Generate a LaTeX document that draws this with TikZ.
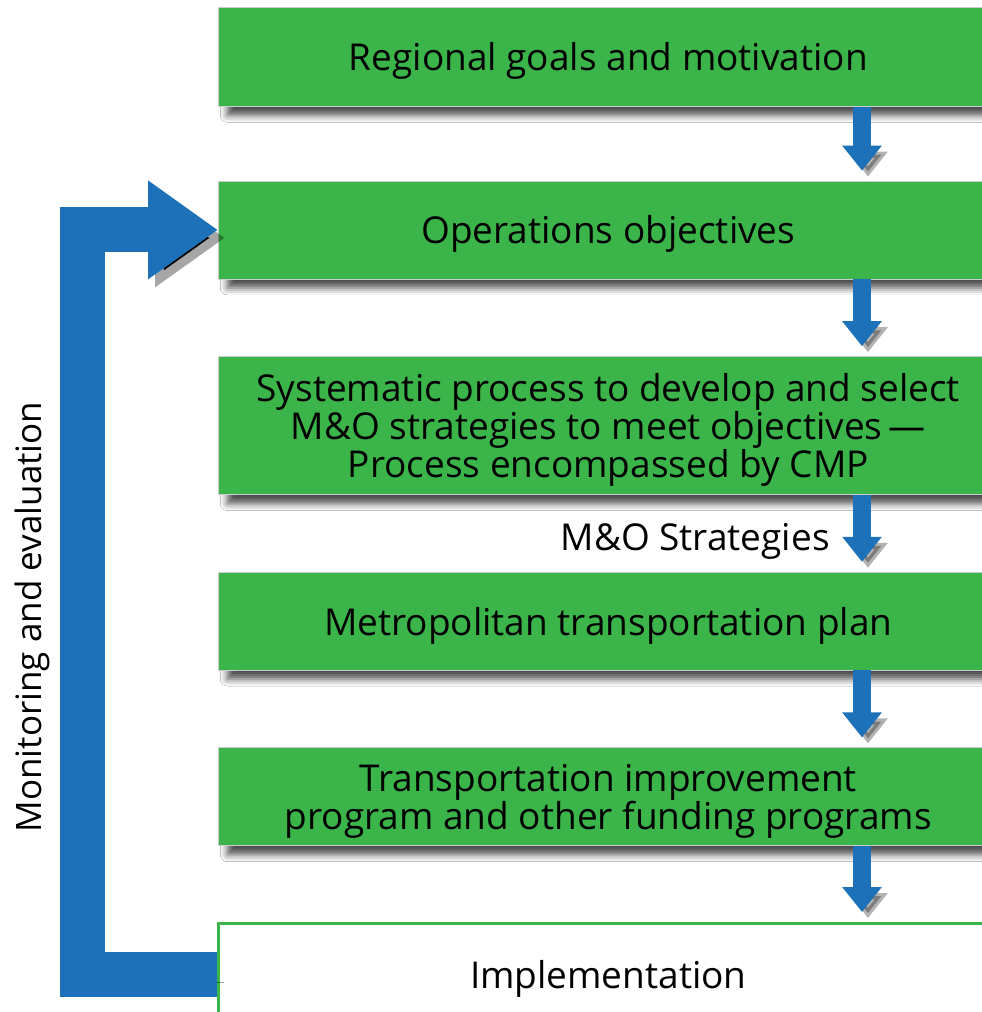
\documentclass[tikz,border=0pt]{standalone}
\usepackage{fontspec}
\setmainfont{Open Sans}
\usetikzlibrary{arrows.meta,positioning,shadows.blur}
\definecolor{boxgreen}{RGB}{59,181,74}
\definecolor{flowblue}{RGB}{29,113,184}

\begin{document}
\begin{tikzpicture}[
      x=1pt, y=-1pt,
      font=\fontsize{37}{35}\selectfont,
      node distance=76pt,
      box/.style={fill=boxgreen, draw=black!20, line width=0.6pt, inner sep=0pt,
                  minimum width=780pt, minimum height=98pt, align=center, text=black,
                  text depth=0pt,
                  blur shadow={shadow xshift=9pt, shadow yshift=-9pt,
                               shadow blur radius=7pt, shadow opacity=70}},
      lastbox/.style={box, fill=white, draw=boxgreen, line width=3pt,
                      blur shadow={shadow xshift=6pt, shadow yshift=-6pt,
                                   shadow blur radius=6pt, shadow opacity=25}},
      dn/.style={line width=18pt, draw=flowblue, shorten >=10pt,
                 -{Triangle[width=38pt,length=25pt]},
                 preaction={draw=black, draw opacity=.3, fill opacity=.3,
                            transform canvas={shift={(6pt,-6pt)}}}},
      fb/.style={line width=45pt, draw=flowblue, line join=miter,
                 -{Triangle[width=94pt,length=70pt]},
                 preaction={draw=black, draw opacity=.35,
                            transform canvas={shift={(7pt,-8pt)}}}}
    ]
    \fill[white] (0,0) rectangle (982,1012);
    \useasboundingbox (0,0) rectangle (982,1012);
    \clip (0,0) rectangle (982,1012);

    % main chain
    \node[box, anchor=north west, minimum height=99pt] (goals) at (218,7) {Regional goals and motivation};
    \node[box, below=74pt of goals] (ops) {Operations objectives};
    \node[box, below=77pt of ops, minimum height=138pt] (cmp) {Systematic process to develop and select\\M\&O strategies to meet objectives\,---\\Process encompassed by CMP};
    \node[box, below=77pt of cmp] (mtp) {Metropolitan transportation plan};
    \node[box, below=77pt of mtp] (tip) {Transportation improvement\\program and other funding programs};
    \node[lastbox, below=76pt of tip, minimum height=101pt] (impl) {Implementation};

    \coordinate (ax) at (862,0);
    \draw[dn] (goals.south -| ax) -- (ops.north -| ax);
    \draw[dn] (ops.south -| ax) -- (cmp.north -| ax);
    \draw[dn] (cmp.south -| ax) -- node[pos=.6, left=20pt, text=black] {M\&O Strategies} (mtp.north -| ax);
    \draw[dn] (mtp.south -| ax) -- (tip.north -| ax);
    \draw[dn] (tip.south -| ax) -- (impl.north -| ax);

    % feedback loop
    \coordinate (lp) at (82.5,600);
    \draw[fb] (impl.west) -| (lp) |- (ops.west);
    \node[rotate=90, font=\fontsize{35}{35}\selectfont] (mon) at (32,617) {Monitoring and evaluation};
  \end{tikzpicture}
\end{document}
